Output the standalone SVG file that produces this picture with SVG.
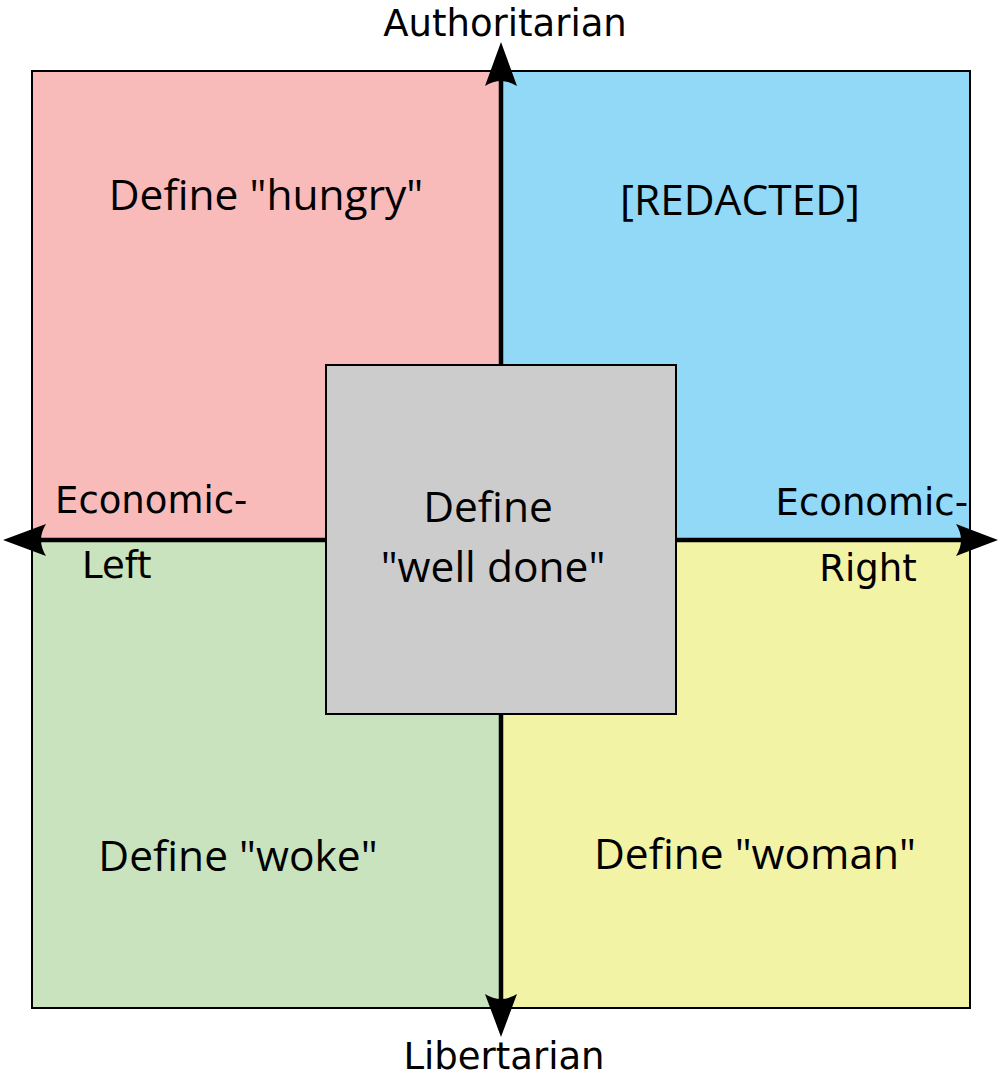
<svg xmlns="http://www.w3.org/2000/svg" width="1000" height="1088" viewBox="0 0 1000 1088">
<style>
.axis{font-family:"DejaVu Sans",sans-serif;font-size:37px;fill:#000}
.lbl{font-family:"Open Sans","Liberation Sans",sans-serif;font-size:42.5px;fill:#000;text-anchor:middle}
.q{stroke:none}
.ax{stroke:#000;stroke-width:4.5;fill:none}
.head{fill:#000;stroke:none}
</style>
<rect width="1000" height="1088" fill="#fff"/>
<g id="quadrant-auth-left">
<rect class="q" x="32" y="71" width="469" height="469" fill="#f9baba"/>
<text class="lbl" x="266" y="210">Define "hungry"</text>
</g>
<g id="quadrant-auth-right">
<rect class="q" x="501" y="71" width="469" height="469" fill="#92d8f7"/>
<text class="lbl" x="740" y="215">[REDACTED]</text>
</g>
<g id="quadrant-lib-left">
<rect class="q" x="32" y="540" width="469" height="468" fill="#c8e3bd"/>
<text class="lbl" x="238" y="871">Define "woke"</text>
</g>
<g id="quadrant-lib-right">
<rect class="q" x="501" y="540" width="469" height="468" fill="#f3f3a6"/>
<text class="lbl" x="755" y="869">Define "woman"</text>
</g>
<rect x="32" y="71" width="938" height="937" fill="none" stroke="#000" stroke-width="2"/>
<g id="connectors">
<line class="ax" x1="501" y1="80" x2="501" y2="1000"/>
<line class="ax" x1="40" y1="540" x2="962" y2="540"/>
<path class="head" d="M501,42 L517,86 Q501,76 485,86 Z"/>
<path class="head" d="M501,1037 L517,994 Q501,1004 485,994 Z"/>
<path class="head" d="M3,540 L46,524 Q36,540 46,556 Z"/>
<path class="head" d="M998,540 L956,524 Q966,540 956,556 Z"/>
</g>
<g id="center">
<rect x="326" y="365" width="350" height="349" fill="#cccccc" stroke="#000" stroke-width="2"/>
<text class="lbl" x="488" y="522">Define</text>
<text class="lbl" x="493" y="582">"well done"</text>
</g>
<g id="axis-labels">
<text class="axis" x="505" y="36" text-anchor="middle">Authoritarian</text>
<text class="axis" x="504" y="1069" text-anchor="middle">Libertarian</text>
<text class="axis" x="55" y="513">Economic-</text>
<text class="axis" x="82" y="578">Left</text>
<text class="axis" x="968" y="515" text-anchor="end">Economic-</text>
<text class="axis" x="868" y="581" text-anchor="middle">Right</text>
</g>
</svg>
